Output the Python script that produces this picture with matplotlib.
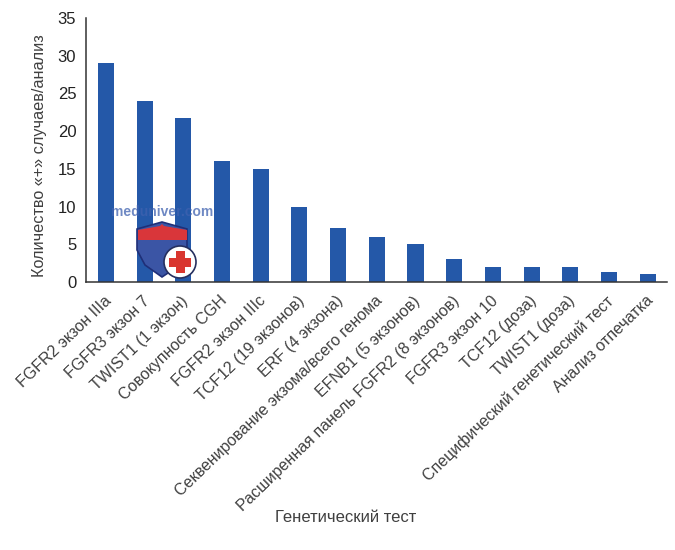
import matplotlib
matplotlib.use("Agg")
import numpy as np
import matplotlib.pyplot as plt
from matplotlib.patches import Polygon, Circle, Rectangle
from matplotlib.transforms import ScaledTranslation

plt.rcParams['font.family'] = ['Liberation Sans', 'DejaVu Sans']

tests = ["FGFR2 экзон IIIa", "FGFR3 экзон 7", "TWIST1 (1 экзон)", "Совокупность CGH",
         "FGFR2 экзон IIIc", "TCF12 (19 экзонов)", "ERF (4 экзона)",
         "Секвенирование экзома/всего генома", "EFNB1 (5 экзонов)",
         "Расширенная панель FGFR2 (8 экзонов)", "FGFR3 экзон 10", "TCF12 (доза)",
         "TWIST1 (доза)", "Специфический генетический тест", "Анализ отпечатка"]
counts = [29, 24, 21.8, 16, 15, 10, 7.1, 6, 5, 3, 2, 2, 2, 1.3, 1]
yticks = [0, 5, 10, 15, 20, 25, 30, 35]

W, H = 675, 550
fig = plt.figure(figsize=(W/100, H/100), dpi=100)
ax = fig.add_axes([86/W, 1-282/H, 581/W, 264/H])

ax.bar(range(len(tests)), counts, width=0.415, color="#2458a8", zorder=2)
ax.set_xlim(-0.517, 14.5)
ax.set_ylim(0, 35)
ax.set_yticks(yticks)
ax.tick_params(axis="y", length=0, pad=7, labelsize=12, labelcolor="#222222")
ax.set_xticks(range(len(tests)))
ax.set_xticklabels(tests, rotation=44, ha="right", rotation_mode="anchor",
                   fontsize=11.5, color="#404040")
ax.tick_params(axis="x", length=0, pad=8)
# labels sit a bit left of the bar centres
shift = ScaledTranslation(-2.5/100, 0, fig.dpi_scale_trans)
for lab in ax.get_xticklabels():
    lab.set_transform(lab.get_transform() + shift)
for s in ["top", "right"]:
    ax.spines[s].set_visible(False)
for s in ["left", "bottom"]:
    ax.spines[s].set_color("#333333")
    ax.spines[s].set_linewidth(1.1)

fig.text(40/W, 1-156/H, "Количество «+» случаев/анализ", rotation=90, ha="center", va="center",
         fontsize=11.7, color="#404040")
fig.text(346/W, 1-517/H, "Генетический тест", ha="center", va="center",
         fontsize=12, color="#404040")

# watermark, in figure pixels
def px(x, y):
    return (x/W, 1-y/H)

fig.text(162/W, 1-212/H, "meduniver.com", ha="center", va="center", fontsize=10, fontweight="bold",
         color="#3f62b0", alpha=0.75, zorder=5)
shield = [(162, 222), (187, 229), (187, 250), (180, 265), (162, 277), (145, 265), (137, 250), (137, 229)]
fig.add_artist(Polygon([px(*p) for p in shield], closed=True, transform=fig.transFigure,
                       facecolor="#3b55a5", edgecolor="#1f2f78", lw=1.2, zorder=6))
band = [(138, 230), (160, 226), (162, 224), (164, 226), (187, 230), (187, 240), (138, 240)]
fig.add_artist(Polygon([px(*p) for p in band], closed=True, transform=fig.transFigure,
                       facecolor="#d9363a", edgecolor="none", zorder=7))
fig.add_artist(Circle((180, H-262), 16, transform=None, facecolor="white",
                      edgecolor="#26305f", lw=1.2, zorder=8))
fig.add_artist(Rectangle((175.5, H-273), 9, 22, transform=None, facecolor="#d9362f", zorder=9))
fig.add_artist(Rectangle((169, H-266.5), 22, 9, transform=None, facecolor="#d9362f", zorder=9))

fig.savefig("out.png", dpi=100)
